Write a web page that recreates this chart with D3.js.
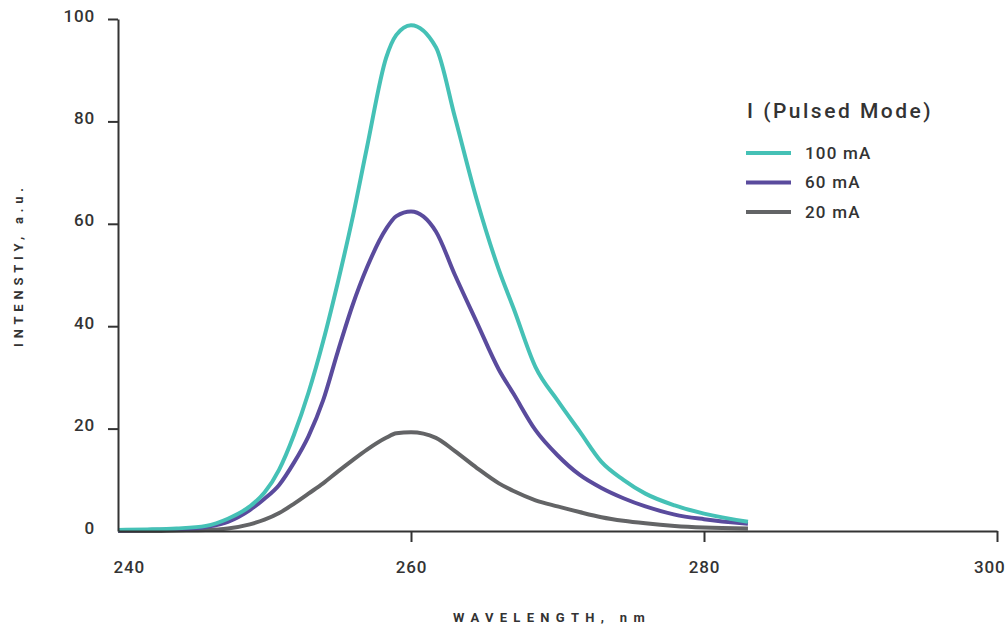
<!DOCTYPE html>
<html>
<head>
<meta charset="utf-8">
<script src="https://cdn.jsdelivr.net/npm/d3@7"></script>
<style>
  body { margin: 0; background: #fff; }
  svg text { font-family: Roboto, "Liberation Sans", sans-serif; fill: #333; }
</style>
</head>
<body>
<div id="chart"></div>
<script>
// wavelength grid (nm) and intensities
var wavelengths = [240, 242, 244, 246, 247.5, 249, 250, 251, 252, 253, 254, 255, 256, 257, 258.3, 259, 260, 261.7, 263, 264.5, 266, 267, 268.5, 270, 271.5, 273, 274.5, 276, 278, 280, 283]
var i100 = [0.2, 0.3, 0.5, 1.0, 2.4, 4.8, 7.5, 12, 18.7, 27, 37, 48.5, 61, 75, 92.4, 96.9, 98.8, 94.5, 80.8, 64.6, 51, 43.5, 32, 25.5, 19.5, 13.5, 10, 7.3, 5, 3.4, 1.8]
var i60 = [0.1, 0.2, 0.3, 0.8, 1.8, 4.1, 6.3, 9, 13.3, 18.5, 25.5, 35, 44, 51.5, 59, 61.5, 62.4, 58.5, 50, 40.7, 31.5, 26.8, 19.7, 14.8, 11, 8.4, 6.4, 4.8, 3.2, 2.3, 1.4]
var i20 = [0, 0, 0.1, 0.2, 0.5, 1.3, 2.2, 3.5, 5.3, 7.3, 9.3, 11.6, 13.8, 15.9, 18.2, 19.1, 19.3, 18.2, 15.6, 12.3, 9.3, 7.8, 6, 4.8, 3.7, 2.7, 2, 1.5, 1, 0.7, 0.5]

var seriesNames = ['100 mA', '60 mA', '20 mA']
var seriesColors = ['#45c1b6', '#5a4b9d', '#636466']
var xTicks = [240, 260, 280, 300]
var yTicks = [0, 20, 40, 60, 80, 100]

var margin = {top: 19, right: 8, bottom: 101, left: 118},
    width = 1005 - margin.left - margin.right,
    height = 632 - margin.top - margin.bottom

var x = d3.scaleLinear().domain([240, 300]).range([0, width]),
    y = d3.scaleLinear().domain([0, 100]).range([height, 0])

var svg = d3.select('#chart').append('svg')
  .attr('width', 1005)
  .attr('height', 632)

var g = svg.append('g')
  .attr('transform', `translate(${[margin.left, margin.top]})`)

var series = [i100, i60, i20].map((vals, k) => ({
  name: seriesNames[k],
  color: seriesColors[k],
  values: wavelengths.map((w, i) => ({w: w, v: vals[i]}))
}))

var line = d3.line()
  .x(d => x(d.w))
  .y(d => y(d.v))
  .curve(d3.curveMonotoneX)

// lines first, grey underneath
g.selectAll('.series').data(series.slice().reverse())
  .enter().append('path')
  .attr('class', 'series')
  .attr('fill', 'none')
  .attr('stroke', d => d.color)
  .attr('stroke-width', 4)
  .attr('stroke-linejoin', 'round')
  .attr('d', d => line(d.values))

var yAxis = d3.axisLeft(y)
  .tickValues(yTicks)
  .tickSize(10)
  .tickSizeOuter(0)
  .tickPadding(13)
var xAxis = d3.axisBottom(x)
  .tickValues(xTicks)
  .tickSize(11)
  .tickSizeOuter(0)
  .tickPadding(19)

var yg = g.append('g').attr('class', 'axis axis--y').call(yAxis)
var xg = g.append('g').attr('class', 'axis axis--x')
  .attr('transform', `translate(${[0, height]})`)
  .call(xAxis)

g.selectAll('.axis path, .axis line')
  .attr('stroke', '#333')
  .attr('stroke-width', 2)
g.selectAll('.axis text')
  .attr('font-size', 17)
  .attr('font-weight', 500)
  .attr('letter-spacing', '0.8px')
  .attr('fill', '#333')
  .attr('font-family', 'Roboto, sans-serif')

yg.selectAll('.tick text').attr('dy', '0.12em')
yg.selectAll('.tick').filter(d => d === 0).select('line').remove()
xg.selectAll('.tick').filter(d => d === 240).select('line').remove()
xg.selectAll('.tick').filter(d => d === 240).select('text')
  .attr('text-anchor', 'start').attr('x', -5)
xg.selectAll('.tick').filter(d => d === 300).select('text')
  .attr('text-anchor', 'end').attr('x', 8)

// axis titles
svg.append('text')
  .attr('x', 552)
  .attr('y', 622)
  .attr('text-anchor', 'middle')
  .attr('font-size', 13)
  .attr('font-weight', 'bold')
  .attr('letter-spacing', '6.3px')
  .text('WAVELENGTH, nm')

svg.append('text')
  .attr('transform', 'translate(23,265) rotate(-90)')
  .attr('text-anchor', 'middle')
  .attr('font-size', 13)
  .attr('font-weight', 'bold')
  .attr('letter-spacing', '4.8px')
  .text('INTENSTIY, a.u.')

// legend
var legend = svg.append('g').attr('transform', 'translate(746,0)')
legend.append('text')
  .attr('x', 1)
  .attr('y', 118)
  .attr('font-size', 21)
  .attr('font-weight', 500)
  .attr('letter-spacing', '2.5px')
  .text('I (Pulsed Mode)')

var item = legend.selectAll('.item').data(series)
  .enter().append('g')
  .attr('class', 'item')
  .attr('transform', (d, i) => `translate(0,${153 + i * 29.5})`)
item.append('line')
  .attr('x1', 0).attr('x2', 45)
  .attr('stroke', d => d.color)
  .attr('stroke-width', 4)
item.append('text')
  .attr('x', 59)
  .attr('dy', '0.35em')
  .attr('font-size', 17)
  .attr('font-weight', 500)
  .attr('letter-spacing', '1.2px')
  .text(d => d.name)
</script>
</body>
</html>
